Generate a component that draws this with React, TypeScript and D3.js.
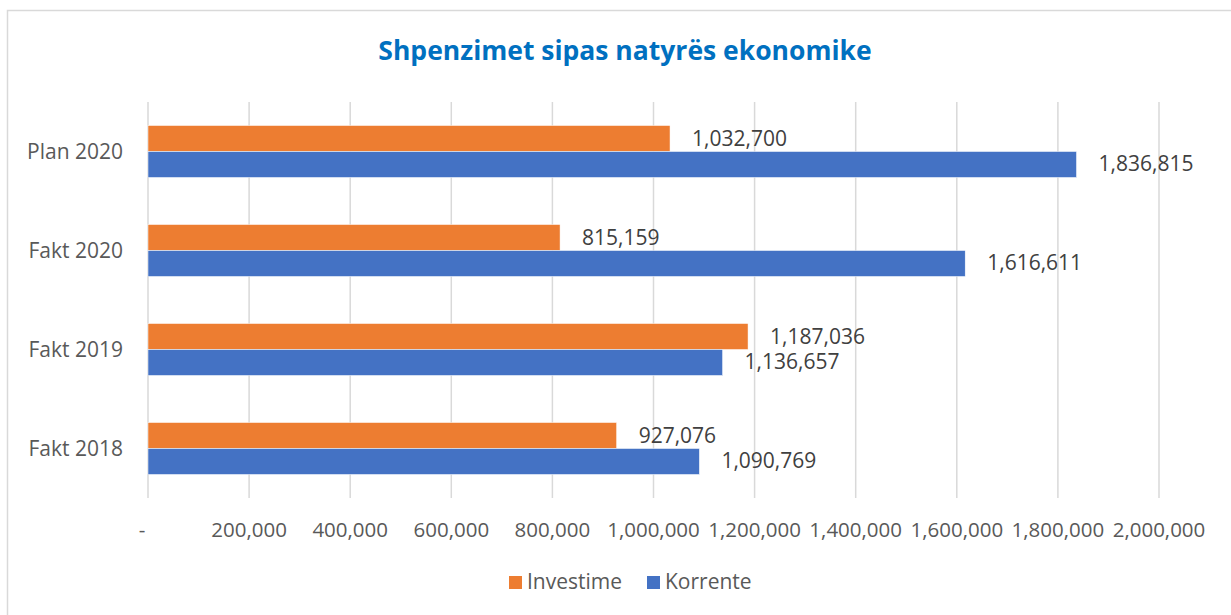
import React from "react";
import * as d3 from "d3";

const categories = ["Plan 2020", "Fakt 2020", "Fakt 2019", "Fakt 2018"];
const seriesNames = ["Investime", "Korrente"];
const investime = [1032700, 815159, 1187036, 927076];
const korrente = [1836815, 1616611, 1136657, 1090769];
const xTicks = [0, 200000, 400000, 600000, 800000, 1000000, 1200000, 1400000, 1600000, 1800000, 2000000];
const colors = ["#ED7D31", "#4472C4"];
const title = "Shpenzimet sipas natyrës ekonomike";

const W = 1231;
const H = 615;
const FONT = "'Open Sans', 'Noto Sans', sans-serif";

export default function App() {
  const x = d3.scaleLinear().domain([0, 2000000]).range([148, 1159]);
  const y = d3.scaleBand<string>().domain(categories).range([102, 498]).paddingInner(0.475).paddingOuter(0.2375);
  const sub = d3.scaleBand<string>().domain(seriesNames).range([0, y.bandwidth()]);
  const fmt = d3.format(",");
  const data = [investime, korrente];

  return (
    <svg width={W} height={H} style={{ position: "absolute", left: 0, top: 0, background: "#fff" }} fontFamily={FONT}>
      <rect x={7.5} y={10.5} width={W + 10} height={H + 10} fill="#fff" stroke="#D9D9D9" strokeWidth={1.5} />
      <text x={625} y={60} textAnchor="middle" fontSize={26.5} fontWeight="bold" fill="#0070C0">{title}</text>
      {xTicks.map((t) => (
        <line key={t} x1={x(t)} x2={x(t)} y1={102} y2={498} stroke="#D9D9D9" strokeWidth={1.5} />
      ))}
      {xTicks.map((t) => (
        <text key={"l" + t} x={t === 0 ? x(t) - 6 : x(t)} y={537} textAnchor="middle" fontSize={20.5} fill="#595959">
          {t === 0 ? "-" : fmt(t)}
        </text>
      ))}
      {categories.map((c) => (
        <text key={c} x={123} y={(y(c) as number) + y.bandwidth() / 2 + 7} textAnchor="end" fontSize={21} fill="#595959">{c}</text>
      ))}
      {categories.map((c, i) =>
        seriesNames.map((s, j) => {
          const yy = (y(c) as number) + (sub(s) as number);
          const v = data[j][i];
          return (
            <g key={c + s}>
              <rect x={x(0)} y={yy} width={x(v) - x(0)} height={sub.bandwidth()} fill={colors[j]} stroke="#fff" strokeWidth={0.5} />
              <text x={x(v) + 22} y={yy + sub.bandwidth() / 2 + 7} fontSize={21} fill="#404040">{fmt(v)}</text>
            </g>
          );
        })
      )}
      {seriesNames.map((s, j) => {
        const lx = j === 0 ? 509 : 647;
        return (
          <g key={"lg" + s}>
            <rect x={lx} y={576} width={13} height={13} fill={colors[j]} />
            <text x={lx + 18} y={589} fontSize={21} fill="#595959">{s}</text>
          </g>
        );
      })}
    </svg>
  );
}
